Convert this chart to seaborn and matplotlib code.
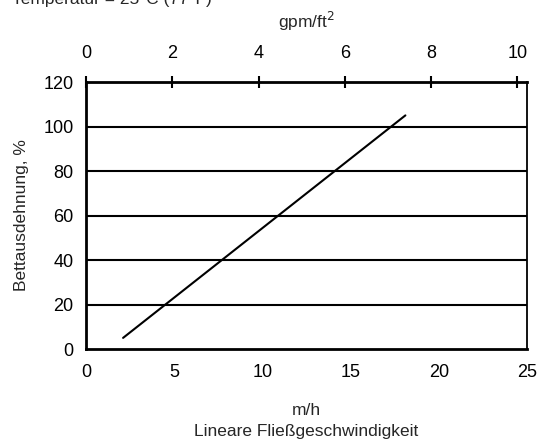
import numpy as np
import pandas as pd
import matplotlib
matplotlib.use('Agg')
import matplotlib.pyplot as plt
import seaborn as sns
from matplotlib.ticker import MultipleLocator

# ── Data ─────────────────────────────────────────────────────
flow_mh   = [2.1, 18.1]      # linear flow rate, m/h
expansion = [5, 105]         # bed expansion, %
GPM_PER_MH = 0.409           # 1 m/h = 0.409 gpm/ft2

y_ticks   = [0, 20, 40, 60, 80, 100, 120]
x_ticks   = [0, 5, 10, 15, 20, 25]
top_ticks = [0, 2, 4, 6, 8, 10]

df = pd.DataFrame({'flow': flow_mh, 'exp': expansion})

sns.set_style('white')
plt.rcParams['font.family'] = ['Liberation Sans', 'DejaVu Sans']

fig = plt.figure(figsize=(5.39, 4.40), dpi=100)
ax = fig.add_axes([0.1596, 0.2068, 0.8184, 0.6068])

sns.lineplot(data=df, x='flow', y='exp', color='black', linewidth=1.5, ax=ax)

ax.set_xlim(0, 25)
ax.set_ylim(0, 120)
ax.set_xticks(x_ticks)
ax.set_yticks(y_ticks)
ax.xaxis.set_minor_locator(MultipleLocator(1))
for y in y_ticks[1:]:
    ax.axhline(y, color='black', linewidth=1.5, zorder=0)

ax.tick_params(axis='x', which='major', direction='inout', length=9, width=1.5,
               labelsize=13, pad=6, colors='black')
ax.tick_params(axis='x', which='minor', direction='in', length=5, width=1.3)
ax.tick_params(axis='y', which='major', direction='out', length=5, width=1.5,
               labelsize=13, pad=4, colors='black')

for side in ['left', 'bottom', 'top']:
    ax.spines[side].set_linewidth(2)
    ax.spines[side].set_color('black')
ax.spines['right'].set_linewidth(1.3)
ax.spines['right'].set_color('black')

ax.set_xlabel('m/h\nLineare Fließgeschwindigkeit', fontsize=12.5,
              labelpad=16, linespacing=1.5)
ax.set_ylabel('Bettausdehnung, %', fontsize=12.5, labelpad=10)

sec = ax.secondary_xaxis('top', functions=(lambda x: x * GPM_PER_MH,
                                           lambda x: x / GPM_PER_MH))
sec.set_xticks(top_ticks)
sec.tick_params(axis='x', direction='inout', length=9, width=1.5,
                labelsize=13, pad=10, colors='black')
sec.spines['top'].set_visible(False)
sec.set_xlabel('gpm/ft$^{2}$', fontsize=12.5, labelpad=12)

fig.text(0.022, 0.983, 'Temperatur = 25°C (77°F)', fontsize=12.5,
         ha='left', va='bottom')

fig.savefig('out.png', dpi=100)
